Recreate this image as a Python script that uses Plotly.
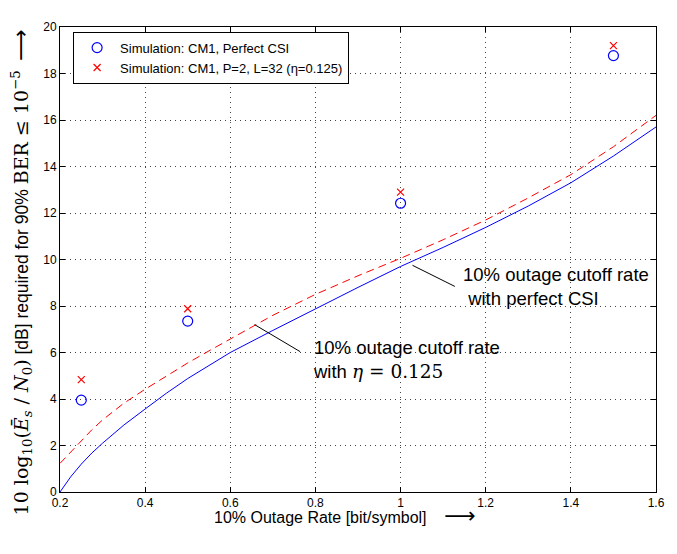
import plotly.graph_objects as go

# Simulation points
sim_rate = [0.25, 0.5, 1.0, 1.5]
sim_perfect = [3.95, 7.35, 12.42, 18.77]
sim_eta = [4.83, 7.88, 12.9, 19.2]

# Outage cutoff rate curves
curve_rate = [0.2, 0.225, 0.25, 0.275, 0.3, 0.35, 0.4, 0.45, 0.5, 0.55, 0.6, 0.7, 0.8, 0.9,
              1.0, 1.1, 1.2, 1.3, 1.4, 1.5, 1.6]
curve_perfect = [0.0, 0.65, 1.2, 1.68, 2.1, 2.88, 3.57, 4.25, 4.88, 5.45, 6.0, 6.95, 7.88, 8.8,
                 9.7, 10.52, 11.38, 12.3, 13.3, 14.45, 15.7]
curve_eta = [1.23, 1.72, 2.2, 2.68, 3.1, 3.82, 4.42, 5.0, 5.55, 6.07, 6.58, 7.6, 8.5, 9.3,
             10.05, 10.85, 11.7, 12.65, 13.65, 14.85, 16.2]

x_ticks = [0.2, 0.4, 0.6, 0.8, 1.0, 1.2, 1.4, 1.6]
x_ticktext = ["0.2", "0.4", "0.6", "0.8", "1", "1.2", "1.4", "1.6"]
y_ticks = list(range(0, 21, 2))

SANS = "Liberation Sans, Arial, sans-serif"
SERIF = "DejaVu Serif, Liberation Serif, serif"
SER = "<span style='font-family:" + SERIF + ";font-size:19px'>"
ARROW = "<span style='font-family:DejaVu Sans;font-size:22px'>⟶</span>"

fig = go.Figure()
fig.add_trace(go.Scatter(x=curve_rate, y=curve_perfect, mode="lines",
                         line=dict(color="#0000ff", width=1), showlegend=False))
fig.add_trace(go.Scatter(x=curve_rate, y=curve_eta, mode="lines",
                         line=dict(color="#ff0000", width=1, dash="8px,5px"), showlegend=False))
fig.add_trace(go.Scatter(x=sim_rate, y=sim_perfect, mode="markers",
                         name="Simulation: CM1, Perfect CSI",
                         marker=dict(symbol="circle-open", size=10, color="#0000ff",
                                     line=dict(width=1.2, color="#0000ff"))))
fig.add_trace(go.Scatter(x=sim_rate, y=sim_eta, mode="markers",
                         name="Simulation: CM1, P=2, L=32 (η=0.125)",
                         marker=dict(symbol="x-thin-open", size=7, color="#ff0000",
                                     line=dict(width=1.2, color="#ff0000"))))

# annotation pointer lines
fig.add_annotation(x=1.028, y=9.75, ax=1.131, ay=8.81, xref="x", yref="y",
                   axref="x", ayref="y", text="", showarrow=True, arrowhead=0,
                   arrowwidth=1, arrowcolor="black")
fig.add_annotation(x=0.657, y=7.2, ax=0.7675, ay=6.0, xref="x", yref="y",
                   axref="x", ayref="y", text="", showarrow=True, arrowhead=0,
                   arrowwidth=1, arrowcolor="black")
fig.add_annotation(x=1.142, y=8.85, xref="x", yref="y", xanchor="left", yanchor="middle",
                   text="10% outage cutoff rate<br> with perfect CSI", showarrow=False,
                   align="left", font=dict(family=SANS, size=18.5, color="black"))
fig.add_annotation(x=0.79, y=5.7, xref="x", yref="y", xanchor="left", yanchor="middle",
                   text="10% outage cutoff rate<br>with <span style='font-family:" + SERIF +
                        "'><i>η</i> = 0.125</span>", showarrow=False,
                   align="left", font=dict(family=SANS, size=18.5, color="black"))

ytitle = (SER + "10 log<sub>10</sub>(<i>Ē<sub>s</sub></i> / <i>N</i><sub>0</sub>)</span>"
          " [dB] required for 90% "
          + SER + "BER ≤ 10<sup>−5</sup></span>"
          "  " + ARROW)
xtitle = "10% Outage Rate [bit/symbol]    " + ARROW

# axis titles placed as paper annotations
fig.add_annotation(x=0.479, y=-0.05, xref="paper", yref="paper", xanchor="center",
                   yanchor="middle", text=xtitle, showarrow=False,
                   font=dict(family=SANS, size=16, color="black"))
fig.add_annotation(x=-0.064, y=0.472, xref="paper", yref="paper", xanchor="center",
                   yanchor="middle", text=ytitle, showarrow=False, textangle=-90,
                   font=dict(family=SANS, size=17.5, color="black"))

axis_common = dict(showline=True, linecolor="black", linewidth=1, mirror="ticks",
                   ticks="inside", ticklen=5, tickcolor="black",
                   showgrid=True, gridcolor="#444444", griddash="1px,4px", gridwidth=1,
                   zeroline=False, tickfont=dict(family=SANS, size=12, color="black"))

fig.update_layout(
    width=669, height=546,
    margin=dict(l=52, r=20, t=14, b=62),
    paper_bgcolor="white", plot_bgcolor="white",
    font=dict(family=SANS, color="black"),
    xaxis=dict(range=[0.2, 1.6], tickvals=x_ticks, ticktext=x_ticktext, **axis_common),
    yaxis=dict(range=[0, 20], tickvals=y_ticks, **axis_common),
    legend=dict(x=0.022, y=0.99, xanchor="left", yanchor="top",
                bgcolor="white", bordercolor="black", borderwidth=1,
                font=dict(family=SANS, size=13, color="black"),
                tracegroupgap=0, itemwidth=36),
)

fig.write_html("out.html")
